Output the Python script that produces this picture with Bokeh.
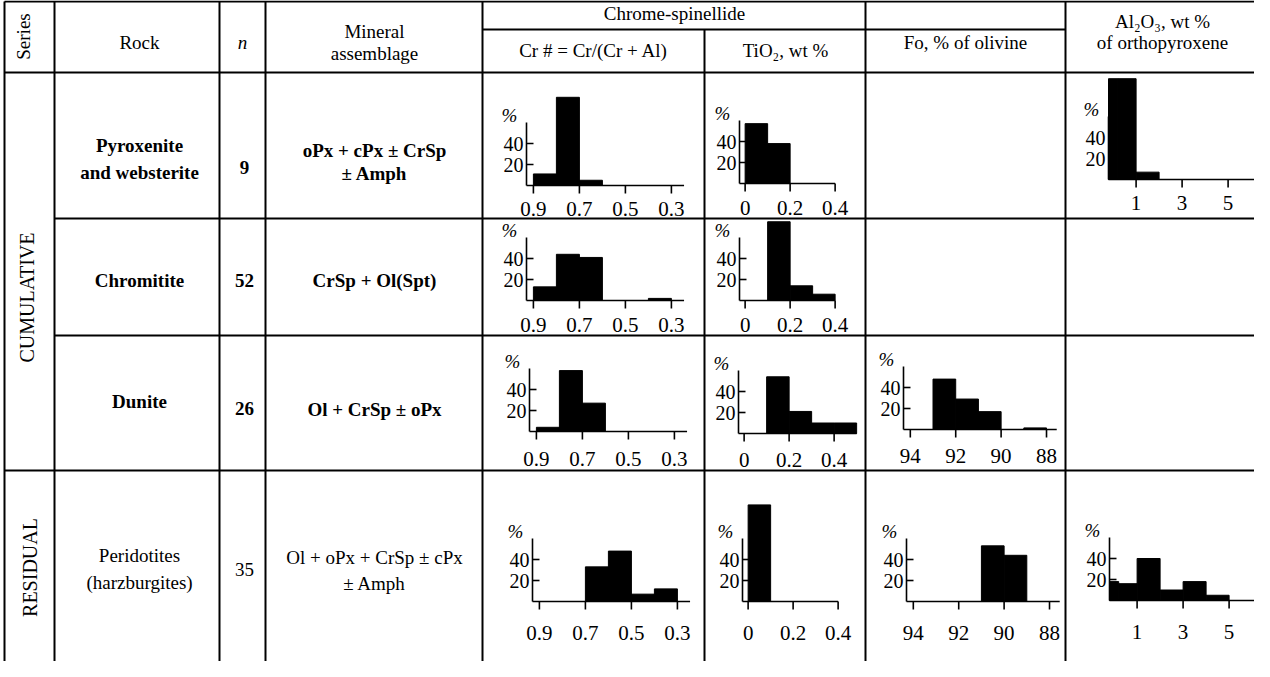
from bokeh.plotting import figure
from bokeh.models import Range1d
from bokeh.core.properties import value
from bokeh.embed import file_html
from bokeh.resources import INLINE

# ---------------- data ----------------
series_labels = ["CUMULATIVE", "RESIDUAL"]
rock_lines = [["Pyroxenite", "and websterite"], ["Chromitite"], ["Dunite"],
              ["Peridotites", "(harzburgites)"]]
n_values = ["9", "52", "26", "35"]
assemblage_lines = [["oPx + cPx ± CrSp", "± Amph"], ["CrSp + Ol(Spt)"],
                    ["Ol + CrSp ± oPx"], ["Ol + oPx + CrSp ± cPx", "± Amph"]]

# Cr# = Cr/(Cr+Al) of chrome-spinellide, % of samples per bin
cr_left = [0.9, 0.8, 0.7, 0.6, 0.5, 0.4]
cr_right = [0.8, 0.7, 0.6, 0.5, 0.4, 0.3]
cr_pyroxenite = [11, 84, 5, 0, 0, 0]
cr_chromitite = [13, 44, 41, 0, 0, 2]
cr_dunite = [4, 58, 27, 0, 0, 0]
cr_peridotite = [0, 0, 33, 48, 7, 12]
cr_ticks = [0.9, 0.7, 0.5, 0.3]
cr_tick_labels = ["0.9", "0.7", "0.5", "0.3"]

# TiO2, wt % of chrome-spinellide
ti_left = [0.0, 0.1, 0.2, 0.3, 0.4]
ti_right = [0.1, 0.2, 0.3, 0.4, 0.5]
ti_pyroxenite = [57, 38, 0, 0, 0]
ti_chromitite = [0, 75, 14, 6, 0]
ti_dunite = [0, 54, 21, 10, 10]
ti_peridotite = [92, 0, 0, 0, 0]
ti_ticks = [0.0, 0.2, 0.4]
ti_tick_labels = ["0", "0.2", "0.4"]

# Fo, % of olivine
fo_left = [94, 93, 92, 91, 90, 89]
fo_right = [93, 92, 91, 90, 89, 88]
fo_dunite = [0, 48, 29, 17, 0, 1.5]
fo_peridotite = [0, 0, 0, 53, 44, 0]
fo_ticks = [94, 92, 90, 88]
fo_tick_labels = ["94", "92", "90", "88"]

# Al2O3, wt % of orthopyroxene
al_left = [-0.2, 0.2, 1, 2, 3, 4]
al_right = [0.2, 1, 2, 3, 4, 5]
al_pyroxenite = [96, 96, 7, 0, 0, 0]
al_peridotite = [18, 16, 40, 10, 18, 5]
al_ticks = [1, 3, 5]
al_tick_labels = ["1", "3", "5"]

pct_ticks = [20, 40]
pct_tick_labels = ["20", "40"]

# ---------------- layout / style ----------------
SERIF = value("Liberation Serif")
W, H = 1254, 661
PX_PER_PCT = 1.05
AXIS_TOP = 60

p = figure(width=W, height=H, x_range=Range1d(8, 8 + W), y_range=Range1d(8 + H, 8),
           output_backend="svg", toolbar_location=None, min_border=0,
           x_axis_type=None, y_axis_type=None)
p.outline_line_color = None
p.background_fill_color = "white"
p.border_fill_color = "white"

# table rules
X_L, X_SER, X_ROCK, X_N, X_MIN, X_CR, X_TI, X_FO, X_R = 12, 62, 227, 273, 490, 712, 873, 1073, 8 + W
Y_T, Y_SUB, Y_H, Y_R1, Y_R2, Y_R3, Y_B = 9, 37, 80, 226, 343, 478, 8 + H
hx0 = [X_L, X_MIN, X_L, X_SER, X_SER, X_L]
hx1 = [X_R, X_FO, X_R, X_R, X_R, X_R]
hy = [Y_T, Y_SUB, Y_H, Y_R1, Y_R2, Y_R3]
p.segment(x0=hx0, y0=hy, x1=hx1, y1=hy, line_color="black", line_width=2)
vx = [X_L, X_SER, X_ROCK, X_N, X_MIN, X_CR, X_TI, X_FO]
vy0 = [Y_T, Y_T, Y_T, Y_T, Y_T, Y_SUB, Y_T, Y_T]
p.segment(x0=vx, y0=vy0, x1=vx, y1=[Y_B] * len(vx), line_color="black", line_width=2)


def txt(x, y, s, size="19px", style="normal", align="center", angle=0.0):
    p.text(x=[x], y=[y], text=[s], text_font=SERIF, text_font_size=size,
           text_font_style=style, text_align=align, text_baseline="middle",
           angle=angle, text_color="black")


# header
txt(31, 44, "Series", angle=1.5707963)
txt(147, 50, "Rock")
txt(250, 50, "n", style="italic")
txt(382, 39, "Mineral")
txt(382, 61, "assemblage")
txt(682, 21, "Chrome-spinellide")
txt(601, 58, "Cr # = Cr/(Cr + Al)")
txt(793, 58, "TiO₂, wt %")
txt(973, 50, "Fo, % of olivine")
txt(1170, 29, "Al₂O₃, wt %")
txt(1170, 50, "of orthopyroxene")

# series labels
txt(34, 305, series_labels[0], size="20px", angle=1.5707963)
txt(37, 575, series_labels[1], size="20px", angle=1.5707963)

# body rows
row_y = [[153, 180], [288], [409], [563, 590]]
n_y = [175, 288, 416, 577]
asm_y = [[158, 181], [288], [417], [565, 591]]
row_style = ["bold", "bold", "bold", "normal"]
for i in range(4):
    for s, yy in zip(rock_lines[i], row_y[i]):
        txt(147, yy, s, style=row_style[i])
    txt(252, n_y[i], n_values[i], style=row_style[i])
    for s, yy in zip(assemblage_lines[i], asm_y[i]):
        txt(382, yy, s, style=row_style[i])


def draw_hist(left, right, vals, ticks, tick_labels, x_start, x_end, ppu,
              axis_px, base_px, label_gap):
    sign = 1 if x_end > x_start else -1
    width_px = abs(x_end - x_start) * ppu
    sub = p.subplot(x_source=Range1d(x_start, x_end), y_source=Range1d(0, 100),
                    x_target=Range1d(axis_px, axis_px + width_px),
                    y_target=Range1d(base_px, base_px - PX_PER_PCT * 100))
    keep = [i for i, v in enumerate(vals) if v > 0]
    sub.quad(left=[left[i] for i in keep], right=[right[i] for i in keep],
             bottom=[0] * len(keep), top=[vals[i] for i in keep],
             fill_color="black", line_color="black", line_width=1)
    sub.segment(x0=[x_start, x_start], y0=[0, 0], x1=[x_end, x_start], y1=[0, AXIS_TOP],
                line_color="black", line_width=1.6)
    dx = sign * 7 / ppu
    sub.segment(x0=[x_start] * 2, y0=pct_ticks, x1=[x_start + dx] * 2, y1=pct_ticks,
                line_color="black", line_width=1.6)
    dy = 8 / PX_PER_PCT
    sub.segment(x0=ticks, y0=[0] * len(ticks), x1=ticks, y1=[-dy] * len(ticks),
                line_color="black", line_width=1.6)
    sub.text(x=ticks, y=[-label_gap / PX_PER_PCT] * len(ticks), text=tick_labels,
             text_font=SERIF, text_font_size="21px", text_align="center",
             text_baseline="middle", text_color="black")
    sub.text(x=[x_start - sign * 3 / ppu] * 2, y=pct_ticks, text=pct_tick_labels,
             text_font=SERIF, text_font_size="20px", text_align="right",
             text_baseline="middle", text_color="black")
    sub.text(x=[x_start - sign * 17 / ppu], y=[67], text=["%"],
             text_font=SERIF, text_font_size="19px", text_font_style="italic",
             text_align="center", text_baseline="middle", text_color="black")


CR = dict(left=cr_left, right=cr_right, ticks=cr_ticks, tick_labels=cr_tick_labels,
          x_start=0.93, x_end=0.245, ppu=230)
TI = dict(left=ti_left, right=ti_right, ticks=ti_ticks, tick_labels=ti_tick_labels,
          x_start=-0.025, x_end=0.4, ppu=225)
FO = dict(left=fo_left, right=fo_right, ticks=fo_ticks, tick_labels=fo_tick_labels,
          x_start=94.3, x_end=87.55, ppu=22.7)
AL = dict(left=al_left, right=al_right, ticks=al_ticks, tick_labels=al_tick_labels,
          x_start=-0.2, x_end=6.3, ppu=23)

# row 1
draw_hist(vals=cr_pyroxenite, axis_px=534, base_px=193, label_gap=23, **CR)
draw_hist(vals=ti_pyroxenite, axis_px=747, base_px=191, label_gap=24, **TI)
draw_hist(vals=al_pyroxenite, axis_px=1116, base_px=187, label_gap=23, **AL)
# row 2
draw_hist(vals=cr_chromitite, axis_px=534, base_px=308, label_gap=24, **CR)
draw_hist(vals=ti_chromitite, axis_px=747, base_px=308, label_gap=24, **TI)
# row 3
draw_hist(vals=cr_dunite, axis_px=537, base_px=439, label_gap=27, **CR)
TI3 = dict(TI, x_end=0.5)
draw_hist(vals=ti_dunite, axis_px=746, base_px=441, label_gap=26, **TI3)
draw_hist(vals=fo_dunite, axis_px=911, base_px=437, label_gap=26, **FO)
# row 4
draw_hist(vals=cr_peridotite, axis_px=540, base_px=609, label_gap=31, **CR)
draw_hist(vals=ti_peridotite, axis_px=750, base_px=609, label_gap=31, **TI)
draw_hist(vals=fo_peridotite, axis_px=914, base_px=609, label_gap=31, **FO)
draw_hist(vals=al_peridotite, axis_px=1117, base_px=608, label_gap=31, **AL)

open("out.html", "w").write(file_html(p, INLINE))
